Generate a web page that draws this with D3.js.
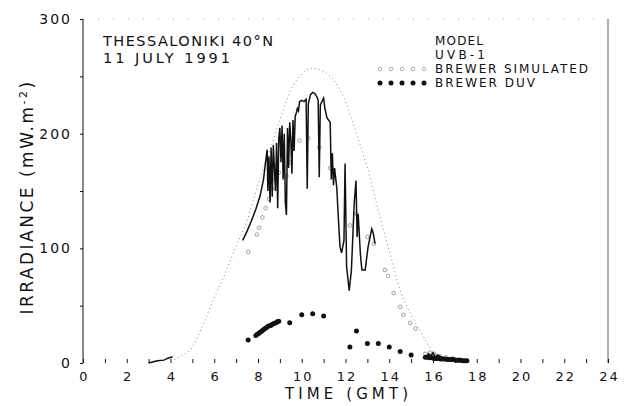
<!DOCTYPE html>
<html lang="en">
<head>
    <meta charset="UTF-8">
    <title>Thessaloniki UV irradiance</title>
    <style>
      body { margin: 0; background: #fff; }
      text { font-family: "DejaVu Sans", sans-serif; fill: #111; }
      .axis path { display: none; }
      .axis line { stroke: #111; }
    </style>
</head>
<body>
<svg height="406" width="624"></svg>

<script src="https://d3js.org/d3.v7.min.js"></script>

<script>

  // clear sky model (dotted)
  var modelHours = [4.0, 4.5, 5.0, 5.5, 6.0, 6.5, 7.0, 7.5, 8.0, 8.5, 9.0, 9.5, 10.0, 10.5, 11.0, 11.5, 12.0, 12.5, 13.0, 13.5, 14.0, 14.5, 15.0, 15.5, 16.0, 16.5];
  var modelIrr   = [2, 6, 14, 34, 57, 78, 102, 124, 156, 183, 212, 238, 252, 257, 254, 246, 228, 200, 170, 133, 98, 63, 42, 25, 10, 3];

  // UVB-1 measurements (solid), null = no data
  var uvbHours = [3.0, 3.4, 3.7, 3.85, 4.1, 4.2,
    7.3, 7.5, 7.7, 7.9, 8.1, 8.25, 8.35, 8.42, 8.45, 8.5, 8.55, 8.6, 8.65, 8.7, 8.75, 8.8, 8.85, 8.9, 8.95,
    9.0, 9.05, 9.1, 9.15, 9.2, 9.25, 9.3, 9.35, 9.4, 9.45, 9.5, 9.55, 9.6, 9.65, 9.7, 9.75, 9.8, 9.85, 9.9,
    10.0, 10.1, 10.2, 10.25, 10.3, 10.4, 10.5, 10.6, 10.7, 10.75, 10.8, 10.85, 11.0, 11.05, 11.15, 11.3,
    11.35, 11.4, 11.45, 11.5, 11.6, 11.68, 11.75, 11.82, 11.93, 11.98, 12.05, 12.17, 12.27, 12.4, 12.48,
    12.53, 12.58, 12.68, 12.75, 12.9, 13.03, 13.2, 13.27, 13.35, 13.4,
    15.6, 15.7, 15.8, 15.9, 16.0, 16.1, 16.2, 16.4, 16.6, 16.8, 17.0, 17.2, 17.4, 17.6];
  var uvbIrr = [0, 2, 2.5, 4, 5.5, null,
    107, 115, 124, 134, 146, 160, 176, 186, 150, 180, 140, 188, 145, 190, 170, 150, 192, 135, 196,
    205, 175, 207, 160, 200, 140, 129, 205, 170, 210, 195, 165, 212, 185, 215, 218, 222, 220, 228,
    229, 228, 230, 152, 226, 234, 236, 235, 232, 229, 162, 225, 231, 223, 214, 210,
    160, 183, 155, 170, 153, 124, 101, 96, 107, 174, 84, 63, 81, 140, 159,
    110, 130, 95, 81, 81, 101, 117, 113, 104, null,
    4, 5, 8, 6, 9, 5, 7, 5, 4, 4, 3, 3, 2, 2];

  // Brewer simulated (open circles)
  var simHours = [7.55, 7.95, 8.05, 8.2, 8.35, 8.5, 8.65, 8.8, 8.95, 9.3, 9.5, 9.9, 10.3, 10.8, 11.3, 12.2, 12.5, 13.0, 13.3,
    13.8, 13.95, 14.2, 14.5, 14.65, 14.95, 15.2, 15.65, 15.85, 16.05, 16.3, 16.6, 16.9, 17.2, 17.5];
  var simIrr = [97, 112, 118, 127, 135, 143, 152, 160, 166, 163, 175, 194, 196, 188, 170, 120, 130, 110, 104,
    81, 76, 61, 49, 42, 35, 30, 8, 9, 8, 6, 5, 4, 3, 2];

  // Brewer DUV (filled dots)
  var duvHours = [7.55, 7.9, 7.97, 8.04, 8.11, 8.18, 8.25, 8.32, 8.39, 8.46, 8.53, 8.6, 8.67, 8.74, 8.81, 8.88, 8.95,
    9.45, 10.0, 10.5, 11.0, 12.2, 12.5, 13.0, 13.5, 14.0, 14.5, 15.0,
    15.65, 15.75, 15.85, 15.95, 16.05, 16.15, 16.25, 16.35, 16.45, 16.55, 16.65, 16.75, 16.85, 16.95,
    17.05, 17.15, 17.25, 17.35, 17.45, 17.55];
  var duvIrr = [20, 24, 25, 26, 27, 28, 29, 30, 31, 32, 32.5, 33, 34, 34.5, 35, 36, 36.5,
    35, 42, 43, 41, 14, 28, 17, 17, 14, 10, 7,
    5, 5, 4.5, 4.5, 4, 4, 4, 3.5, 3.5, 3.5, 3, 3, 3, 3,
    2.5, 2.5, 2.5, 2, 2, 2];

  var hourTicks = d3.range(0, 25, 1);
  var hourLabels = [0, 2, 4, 6, 8, 10, 12, 14, 16, 18, 20, 22, 24];
  var irrTicks = [0, 50, 100, 150, 200, 250, 300];
  var irrLabels = [0, 100, 200, 300];

  var legendNames = ["MODEL", "UVB-1", "BREWER SIMULATED", "BREWER DUV"];

  var translate = function(x, y) { return "translate(" + x + "," + y + ")"; };

  var graphMargins = {top: 19, right: 16, bottom: 43, left: 83};

  var svg = d3.select("svg");
  var graphWidth = svg.attr("width") - graphMargins.left - graphMargins.right;
  var graphHeight = svg.attr("height") - graphMargins.top - graphMargins.bottom;

  var g = svg.append("g")
    .attr("transform", translate(graphMargins.left, graphMargins.top));

  var x = d3.scaleLinear().domain([0, 24]).range([0, graphWidth]);
  var y = d3.scaleLinear().domain([0, 300]).range([graphHeight, 0]);

  // frame: faint dotted top, grey right side
  g.append("line")
    .attr("x1", 0).attr("x2", graphWidth).attr("y1", 0).attr("y2", 0)
    .attr("stroke", "#aaa").attr("stroke-width", 1).attr("stroke-dasharray", "1,14");
  g.append("line")
    .attr("x1", graphWidth).attr("x2", graphWidth).attr("y1", 0).attr("y2", graphHeight)
    .attr("stroke", "#777").attr("stroke-width", 1.2);
  g.append("line")
    .attr("x1", 0).attr("x2", 0).attr("y1", 0).attr("y2", graphHeight)
    .attr("stroke", "#111").attr("stroke-width", 1);

  // y axis
  var yAxis = d3.axisLeft(y)
    .tickValues(irrTicks)
    .tickSize(3)
    .tickPadding(8)
    .tickFormat(function(d) { return irrLabels.indexOf(d) >= 0 ? d : ""; });
  g.append("g")
    .attr("class", "y axis")
    .call(yAxis)
    .selectAll("text")
    .attr("font-size", 14)
    .attr("letter-spacing", 2)
    .attr("font-family", "DejaVu Sans");

  // x axis: small upward ticks, no base line
  var xAxis = d3.axisBottom(x)
    .tickValues(hourTicks)
    .tickSize(-4)
    .tickPadding(9)
    .tickFormat(function(d) { return hourLabels.indexOf(d) >= 0 ? d : ""; });
  g.append("g")
    .attr("class", "x axis")
    .attr("transform", translate(0, graphHeight))
    .call(xAxis)
    .selectAll("text")
    .attr("font-size", 13)
    .attr("letter-spacing", 2)
    .attr("dx", 1)
    .attr("font-family", "DejaVu Sans");

  // model
  var modelLine = d3.line()
    .x(function(d) { return x(d[0]); })
    .y(function(d) { return y(d[1]); })
    .curve(d3.curveMonotoneX);
  g.append("path")
    .datum(d3.zip(modelHours, modelIrr))
    .attr("d", modelLine)
    .attr("fill", "none")
    .attr("stroke", "#888")
    .attr("stroke-width", 1)
    .attr("stroke-dasharray", "1,3");

  // brewer simulated
  g.selectAll(".sim")
    .data(d3.zip(simHours, simIrr))
    .enter()
    .append("circle")
    .attr("class", "sim")
    .attr("cx", function(d) { return x(d[0]); })
    .attr("cy", function(d) { return y(d[1]); })
    .attr("r", 1.8)
    .attr("fill", "none")
    .attr("stroke", "#888")
    .attr("stroke-width", 0.8);

  // UVB-1
  var uvbLine = d3.line()
    .defined(function(d) { return d[1] !== null; })
    .x(function(d) { return x(d[0]); })
    .y(function(d) { return y(d[1]); });
  g.append("path")
    .datum(d3.zip(uvbHours, uvbIrr))
    .attr("d", uvbLine)
    .attr("fill", "none")
    .attr("stroke", "#111")
    .attr("stroke-width", 1.5);

  // brewer DUV
  g.selectAll(".duv")
    .data(d3.zip(duvHours, duvIrr))
    .enter()
    .append("circle")
    .attr("class", "duv")
    .attr("cx", function(d) { return x(d[0]); })
    .attr("cy", function(d) { return y(d[1]); })
    .attr("r", 2.5)
    .attr("fill", "#111");

  // station / date
  g.append("text")
    .attr("x", 20).attr("y", 27)
    .attr("font-size", 14.5)
    .attr("textLength", 170)
    .attr("lengthAdjust", "spacing")
    .text("THESSALONIKI 40°N");
  g.append("text")
    .attr("x", 20).attr("y", 44)
    .attr("font-size", 14.5)
    .attr("textLength", 127)
    .attr("lengthAdjust", "spacing")
    .text("11 JULY 1991");

  // legend
  var legendX = 352;
  var legendLen = [48, 50, 153, 100];
  var legend = g.selectAll(".legend")
    .data(legendNames)
    .enter()
    .append("g")
    .attr("class", "legend")
    .attr("transform", function(d, i) { return translate(legendX, 26 + i * 14); });
  legend.append("text")
    .attr("font-size", 12)
    .attr("textLength", function(d, i) { return legendLen[i]; })
    .attr("lengthAdjust", "spacing")
    .text(function(d) { return d; });

  var sampleX = d3.range(5).map(function(i) { return -55 + i * 11; });
  legend.filter(function(d, i) { return i === 2; })
    .selectAll("circle")
    .data(sampleX)
    .enter()
    .append("circle")
    .attr("cx", function(d) { return d; })
    .attr("cy", -4)
    .attr("r", 1.8)
    .attr("fill", "none")
    .attr("stroke", "#999")
    .attr("stroke-width", 0.8);
  legend.filter(function(d, i) { return i === 3; })
    .selectAll("circle")
    .data(sampleX)
    .enter()
    .append("circle")
    .attr("cx", function(d) { return d; })
    .attr("cy", -4)
    .attr("r", 2.5)
    .attr("fill", "#111");

  // axis titles
  svg.append("text")
    .attr("x", 285).attr("y", 399)
    .attr("font-size", 15)
    .attr("textLength", 123)
    .attr("lengthAdjust", "spacing")
    .text("TIME (GMT)");

  var yTitle = svg.append("text")
    .attr("transform", translate(33, 197) + " rotate(-90)")
    .attr("text-anchor", "middle")
    .attr("font-size", 17)
    .attr("letter-spacing", 2.5);
  yTitle.append("tspan").text("IRRADIANCE (mW.m");
  yTitle.append("tspan").attr("font-size", 11).attr("baseline-shift", "super").text("-2");
  yTitle.append("tspan").text(")");

</script>
</body>
</html>
